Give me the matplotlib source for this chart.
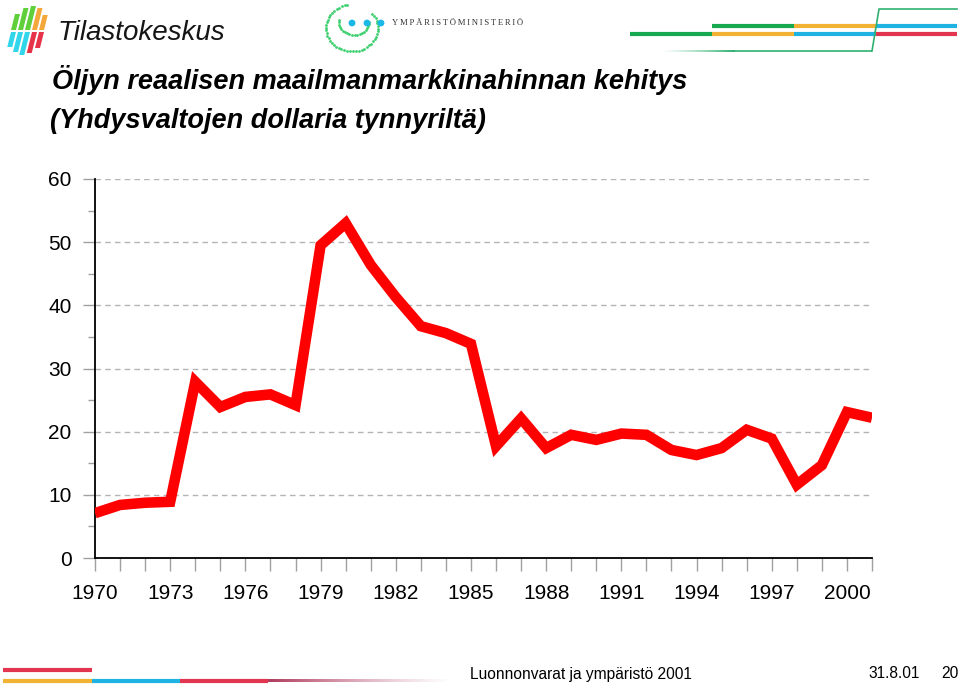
import matplotlib
matplotlib.use('Agg')
import matplotlib.pyplot as plt
import numpy as np
from matplotlib.patches import Polygon, Circle
from matplotlib.colors import to_rgb

# data: real world market price of oil, USD per barrel
years = list(range(1970, 2002))
price = [7.1, 8.4, 8.75, 8.9, 27.9, 23.9, 25.5, 25.9, 24.2, 49.5,
         53.0, 46.4, 41.3, 36.7, 35.6, 33.9, 17.7, 22.1, 17.4, 19.5,
         18.7, 19.7, 19.5, 17.1, 16.3, 17.4, 20.3, 18.9, 11.6, 14.7,
         23.1, 22.2]
xtick_years = list(range(1970, 2001, 3))
yticks = [0, 10, 20, 30, 40, 50, 60]

title_line1 = 'Öljyn reaalisen maailmanmarkkinahinnan kehitys'
title_line2 = '(Yhdysvaltojen dollaria tynnyriltä)'
footer_text = 'Luonnonvarat ja ympäristö 2001'
footer_date = '31.8.01'
footer_page = '20'

# styling
line_color = '#ff0000'
grid_color = '#b4b4b4'
tick_color = '#a0a0a0'
sans = ['Liberation Sans', 'DejaVu Sans']
green = '#16a950'
orange = '#f2b233'
blue = '#1fb3e4'
red = '#e2354f'

W, H = 960, 686
fig = plt.figure(figsize=(W / 100, H / 100), dpi=100)

# decoration layer in pixel coordinates
deco = fig.add_axes([0, 0, 1, 1])
deco.axis('off')


def fade_line(x0, x1, y, color, lw, reverse=False):
    # horizontal line whose opacity fades out along its length
    n = 200
    arr = np.zeros((1, n, 4))
    arr[..., :3] = to_rgb(color)
    a = np.linspace(1, 0, n) ** 1.3
    arr[..., 3] = a[::-1] if reverse else a
    deco.imshow(arr, extent=(x0, x1, y + lw / 2, y - lw / 2), aspect='auto',
                interpolation='bilinear', zorder=1)


# Tilastokeskus logo bars
top_cols = ['#5fcf3a', '#5fcf3a', '#5fcf3a', '#f5a83a', '#f5a83a']
bot_cols = ['#32d6ea', '#32d6ea', '#32d6ea', '#e6334a', '#e6334a']
mid_x = [11, 18, 25, 32, 39]
top_y = [14, 8, 6, 8, 15]
bot_y = [47, 52, 55, 53, 48]
slant = 0.25
bw = 5
for i in range(5):
    m = mid_x[i]
    xt = m + slant * (30 - top_y[i])
    deco.add_patch(Polygon([(m, 30), (m + bw, 30), (xt + bw, top_y[i]), (xt, top_y[i])],
                           closed=True, color=top_cols[i], lw=0))
    xb = m - slant * (bot_y[i] - 32)
    deco.add_patch(Polygon([(m, 32), (m + bw, 32), (xb + bw, bot_y[i]), (xb, bot_y[i])],
                           closed=True, color=bot_cols[i], lw=0))
deco.text(57, 33, 'Tilastokeskus', fontsize=20, style='italic', family=sans,
          va='center', ha='left', color='#151515')

# Ympäristöministeriö logo
a_out = np.radians(np.linspace(100, 398, 46))
deco.scatter(352 + 26 * np.cos(a_out), 28 - 23.5 * np.sin(a_out), s=4, color='#3ccf6e', lw=0)
a_in = np.radians(np.linspace(172, 362, 20))
deco.scatter(354 + 15 * np.cos(a_in), 22 - 13 * np.sin(a_in), s=4, color='#3ccf6e', lw=0)
for cx in [352, 367, 381]:
    deco.add_patch(Circle((cx, 23), 3.4, color='#1cb8e8', lw=0))
deco.text(392, 23, '\u2009'.join('YMPÄRISTÖMINISTERIÖ'), fontsize=6.2,
          family=['Liberation Serif', 'DejaVu Serif'], va='center', ha='left', color='#333333')

# header stripes at top right
for xs, c in [((712, 794), green), ((794, 876), orange), ((876, 957), blue)]:
    deco.plot(xs, (25.5, 25.5), color=c, lw=3, solid_capstyle='butt')
for xs, c in [((630, 712), green), ((712, 794), orange), ((794, 876), blue), ((876, 957), red)]:
    deco.plot(xs, (34, 34), color=c, lw=3, solid_capstyle='butt')
deco.plot([872, 879, 957], [51, 9, 9], color='#2fb070', lw=1.2)
deco.plot([735, 872], [51, 51], color='#2fb070', lw=1.2, solid_capstyle='butt')
fade_line(660, 735, 51, '#2fb070', 1.6, reverse=True)

# footer stripes
deco.plot([3, 92], [670, 670], color=red, lw=3, solid_capstyle='butt')
for xs_, c in [((3, 92), orange), ((92, 180), blue), ((180, 268), red)]:
    deco.plot(xs_, (681, 681), color=c, lw=3, solid_capstyle='butt')
fade_line(268, 455, 681, '#b03a5c', 2.6)

deco.text(470, 674, footer_text, fontsize=11.2, family=sans, va='center', ha='left')
deco.text(868, 674, footer_date, fontsize=11.2, family=sans, va='center', ha='left')
deco.text(958, 674, footer_page, fontsize=11.2, family=sans, va='center', ha='right')

# title
deco.text(52, 89, title_line1, fontsize=19.5, style='italic', weight='bold',
          family=sans, va='baseline', ha='left')
deco.text(50, 128, title_line2, fontsize=19.5, style='italic', weight='bold',
          family=sans, va='baseline', ha='left')

deco.set_xlim(0, W)
deco.set_ylim(H, 0)

# main chart
ax = fig.add_axes([95 / W, 1 - 558 / H, (872 - 95) / W, (558 - 179) / H])
ax.plot(years, price, color=line_color, lw=7.6, solid_joinstyle='miter', solid_capstyle='butt', zorder=3)
ax.set_xlim(1970, 2001)
ax.set_ylim(0, 60)

ax.spines['top'].set_visible(False)
ax.spines['right'].set_visible(False)
ax.spines['left'].set_linewidth(1.3)
ax.spines['bottom'].set_linewidth(1.3)

ax.set_yticks(yticks)
ax.set_yticks([5, 15, 25, 35, 45, 55], minor=True)
ax.set_xticks(xtick_years)
ax.set_xticks(years, minor=True)
ax.set_xticklabels([str(y) for y in xtick_years])
ax.tick_params(axis='both', which='both', color=tick_color, width=1, labelsize=15)
ax.tick_params(axis='x', which='both', length=9, pad=10)
ax.tick_params(axis='y', which='major', length=9, pad=8)
ax.tick_params(axis='y', which='minor', length=5)
for lab in ax.get_xticklabels() + ax.get_yticklabels():
    lab.set_family(sans)

ax.yaxis.grid(True, which='major', color=grid_color, linestyle=(0, (4, 3)), linewidth=1)
ax.set_axisbelow(True)

fig.savefig('out.png', dpi=100)
